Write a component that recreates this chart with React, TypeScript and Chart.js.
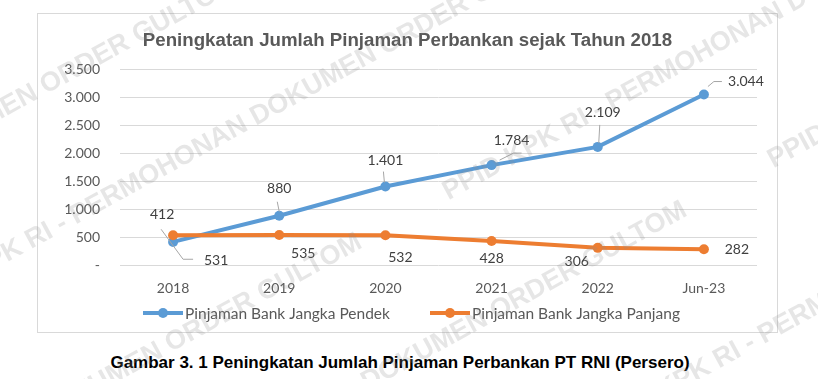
import React, { useEffect, useRef } from "react";
import { Chart, registerables } from "chart.js";

Chart.register(...registerables);

// ---------- data ----------
const categories = ["2018", "2019", "2020", "2021", "2022", "Jun-23"];
const shortTermLoans = [412, 880, 1401, 1784, 2109, 3044];
const longTermLoans = [531, 535, 532, 428, 306, 282];
const yMin = 0;
const yMax = 3500;
const yStep = 500;
const seriesNames = ["Pinjaman Bank Jangka Pendek", "Pinjaman Bank Jangka Panjang"];
const titleText = "Peningkatan Jumlah Pinjaman Perbankan sejak Tahun 2018";
const captionText = "Gambar 3. 1 Peningkatan Jumlah Pinjaman Perbankan PT RNI (Persero)";
const watermarkText = "PPID KPK RI - PERMOHONAN DOKUMEN ORDER GULTOM";

// ---------- style ----------
const BLUE = "#5B9BD5";
const ORANGE = "#ED7D31";
const AXIS_TEXT = "#595959";
const LABEL_TEXT = "#404040";
const GRID = "#d9d9d9";
const FONT = "Lato, 'Open Sans', sans-serif";

// label offsets relative to the point (pixels)
const shortLabelOffsets = [[-11, -27], [0, -27], [0, -26], [20, -25], [5, -34], [42, -13]];
const longLabelOffsets = [[43, 25], [24, 18], [15, 22], [0, 17], [-21, 14], [33, 0]];
const shortLeaders = [null, [[-2, -14], [0, -4]], [[-2, -15], [-1, -4]], [[8, -5], [22, -12], [30, -12]], [[2, -22], [1, -4]], [[4, -8], [10, -13], [18, -13]]];
const longLeaders = [[[-12, -6], [10, 24], [20, 24]], null, null, null, null, null];

const fmt = (v: number) => String(v).replace(/\B(?=(\d{3})+(?!\d))/g, ".");

const overlayPlugin = {
  id: "overlay",
  afterDatasetsDraw(chart: any) {
    const ctx = chart.ctx as CanvasRenderingContext2D;
    ctx.save();
    ctx.font = `14px ${FONT}`;
    ctx.textAlign = "center";
    ctx.textBaseline = "middle";
    const draw = (dsIndex: number, values: number[], offsets: number[][], leaders: any[]) => {
      const meta = chart.getDatasetMeta(dsIndex);
      meta.data.forEach((pt: any, i: number) => {
        const x = pt.x;
        const y = pt.y;
        const L = leaders[i];
        if (L) {
          ctx.strokeStyle = "#a6a6a6";
          ctx.lineWidth = 1;
          ctx.beginPath();
          L.forEach(([dx, dy]: number[], k: number) => {
            if (k === 0) ctx.moveTo(x + dx, y + dy);
            else ctx.lineTo(x + dx, y + dy);
          });
          ctx.stroke();
        }
        ctx.fillStyle = LABEL_TEXT;
        ctx.fillText(fmt(values[i]), x + offsets[i][0], y + offsets[i][1]);
      });
    };
    draw(0, shortTermLoans, shortLabelOffsets, shortLeaders);
    draw(1, longTermLoans, longLabelOffsets, longLeaders);

    // legend
    const ly = chart.height - 19;
    ctx.font = `15.5px ${FONT}`;
    ctx.textAlign = "left";
    const colors = [BLUE, ORANGE];
    const starts = [105, 392];
    const lineW = 40;
    seriesNames.forEach((name, i) => {
      const x = starts[i];
      ctx.strokeStyle = colors[i];
      ctx.lineWidth = 4;
      ctx.beginPath();
      ctx.moveTo(x, ly);
      ctx.lineTo(x + lineW, ly);
      ctx.stroke();
      ctx.fillStyle = colors[i];
      ctx.beginPath();
      ctx.arc(x + lineW / 2, ly, 5, 0, Math.PI * 2);
      ctx.fill();
      ctx.fillStyle = AXIS_TEXT;
      ctx.fillText(name, x + lineW + 2, ly + 1);
    });
    ctx.restore();
  },
};

const TAN = Math.tan((28.7 * Math.PI) / 180);
const watermarkLines = [
  { b: 118, x: -427 },
  { b: 265, x: -88 },
  { b: 445, x: -302 },
  { b: 591, x: 23 },
  { b: 761, x: -150 },
];

function Watermark() {
  return (
    <>
      {watermarkLines.map((l, i) => (
        <div
          key={i}
          style={{
            position: "absolute",
            left: l.x,
            top: l.b - TAN * l.x - 23,
            height: 27,
            lineHeight: "27px",
            whiteSpace: "nowrap",
            transform: "rotate(-28.7deg)",
            transformOrigin: "0 23px",
            font: "bold 27px 'Liberation Sans', Arial, sans-serif",
            color: "rgba(140,140,140,0.22)",
            pointerEvents: "none",
          }}
        >
          {[0, 1, 2].map((k) => (
            <span key={k} style={{ marginRight: 97 }}>{watermarkText}</span>
          ))}
        </div>
      ))}
    </>
  );
}

export default function App() {
  const canvasRef = useRef<HTMLCanvasElement | null>(null);

  useEffect(() => {
    const canvas = canvasRef.current;
    if (!canvas) return;
    const chart = new Chart(canvas, {
      type: "line",
      data: {
        labels: categories,
        datasets: [
          {
            label: seriesNames[0],
            data: shortTermLoans,
            borderColor: BLUE,
            backgroundColor: BLUE,
            borderWidth: 4,
            pointRadius: 5,
            pointBorderWidth: 0,
            pointBackgroundColor: BLUE,
            tension: 0,
            order: 1,
          },
          {
            label: seriesNames[1],
            data: longTermLoans,
            borderColor: ORANGE,
            backgroundColor: ORANGE,
            borderWidth: 4,
            pointRadius: 5,
            pointBorderWidth: 0,
            pointBackgroundColor: ORANGE,
            tension: 0,
            order: 0,
          },
        ],
      },
      options: {
        animation: false,
        responsive: false,
        maintainAspectRatio: false,
        layout: { padding: { top: 55, right: 20, left: 0, bottom: 0 } },
        plugins: {
          legend: { display: false },
          title: { display: false },
          tooltip: { enabled: false },
        },
        scales: {
          x: {
            offset: true,
            grid: { display: false, drawTicks: false },
            border: { display: false },
            ticks: { color: AXIS_TEXT, font: { family: FONT, size: 14 }, padding: 15 },
            afterFit: (s: any) => {
              s.height = 67;
            },
          },
          y: {
            min: yMin,
            max: yMax,
            grid: { color: GRID, drawTicks: false },
            border: { display: false },
            ticks: {
              stepSize: yStep,
              color: AXIS_TEXT,
              font: { family: FONT, size: 14 },
              padding: 20,
              callback: (v: any) => (Number(v) === 0 ? "-" : fmt(Number(v))),
            },
            afterFit: (s: any) => {
              s.width = 82;
            },
          },
        },
      } as any,
      plugins: [overlayPlugin],
    });
    return () => chart.destroy();
  }, []);

  return (
    <div
      style={{
        position: "absolute",
        left: 0,
        top: 0,
        width: 818,
        height: 379,
        background: "#fff",
        overflow: "hidden",
      }}
    >
      <div
        style={{
          position: "absolute",
          left: 37,
          top: 13,
          width: 741,
          height: 320,
          boxSizing: "border-box",
          border: "1px solid #d9d9d9",
        }}
      />
      <canvas
        ref={canvasRef}
        width={739}
        height={318}
        style={{ position: "absolute", left: 38, top: 14, width: 739, height: 318 }}
      />
      <div
        style={{
          position: "absolute",
          left: 38,
          top: 29,
          width: 739,
          textAlign: "center",
          lineHeight: "20px",
          font: "bold 18.7px 'Liberation Sans', Arial, sans-serif",
          color: AXIS_TEXT,
          whiteSpace: "nowrap",
        }}
      >
        {titleText}
      </div>
      <div
        style={{
          position: "absolute",
          left: 0,
          top: 353,
          width: 800,
          textAlign: "center",
          lineHeight: "20px",
          font: "bold 17px 'Liberation Sans', Arial, sans-serif",
          color: "#000",
          whiteSpace: "nowrap",
        }}
      >
        {captionText}
      </div>
      <Watermark />
    </div>
  );
}
